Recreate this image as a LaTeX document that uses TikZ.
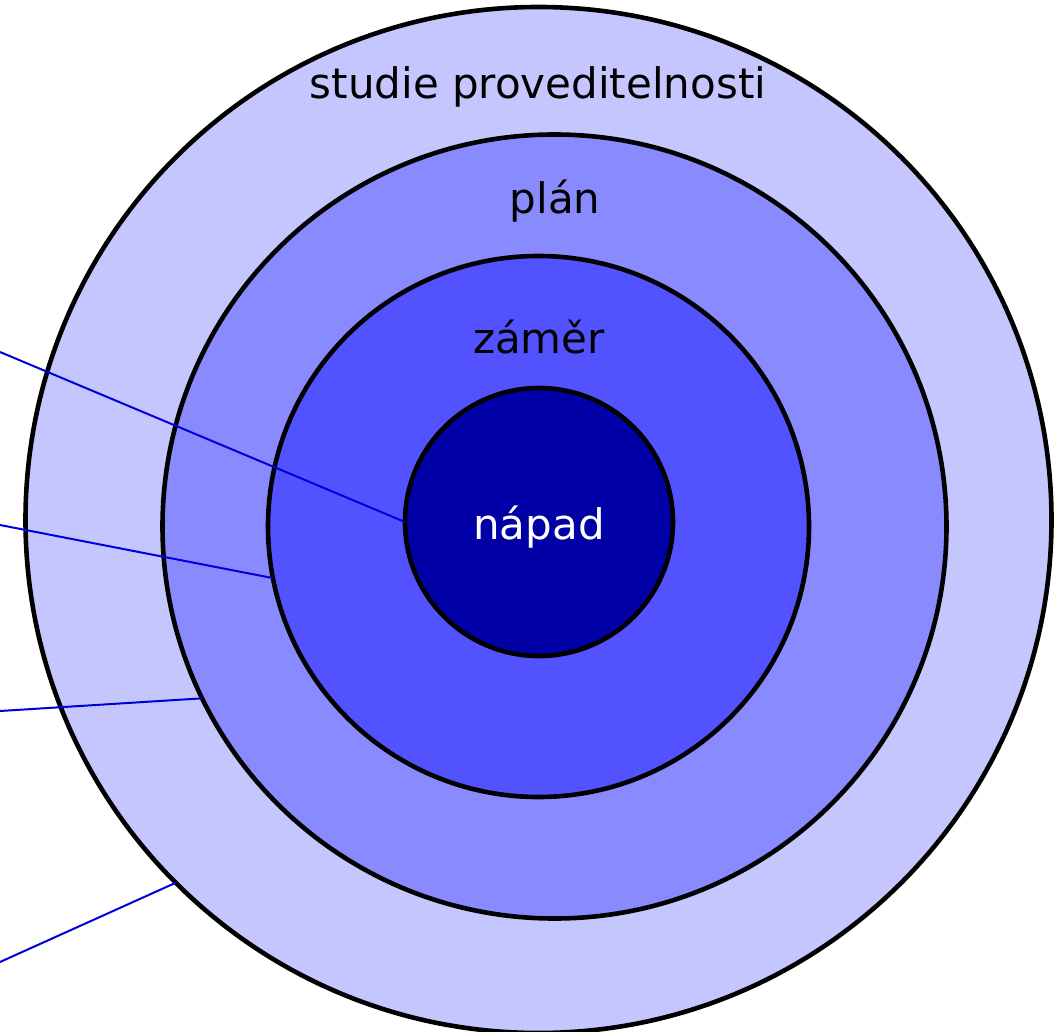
\documentclass[tikz,border=0pt]{standalone}
\usepackage{fontspec}
\setmainfont{DejaVu Sans}
\usetikzlibrary{positioning}
\definecolor{ringout}{RGB}{198,198,255}
\definecolor{ringplan}{RGB}{138,138,255}
\definecolor{ringzamer}{RGB}{82,82,255}
\definecolor{ringcore}{RGB}{0,0,166}
\definecolor{pointblue}{RGB}{0,0,220}

\begin{document}
\begin{tikzpicture}[x=0.5pt, y=-0.5pt,
    ring/.style={circle, draw=black, line width=2.3pt, inner sep=0pt, outer sep=0pt},
    ringlabel/.style={anchor=base, font=\fontsize{21}{25}\selectfont},
    pointer/.style={draw=pointblue, line width=1pt}]
    \useasboundingbox (0,0) rectangle (1054,1032);
    % --- Rings (outermost first) ---
    \node[ring, fill=ringout, minimum size=513pt] (studie) at (538.5,520) {};
    \node[ring, fill=ringplan, minimum size=392pt] (plan) at (554.5,526.5) {};
    \node[ring, fill=ringzamer, minimum size=270.5pt] (zamer) at (538.5,526.5) {};
    \node[ring, fill=ringcore, minimum size=134pt] (napad) at (539,522) {};
    % --- Labels ---
    \node[ringlabel] (lstudie) at (538,99) {studie proveditelnosti};
    \node[ringlabel] (lplan) at (555,214) {plán};
    \node[ringlabel] (lzamer) at (539,353) {záměr};
    \node[ringlabel, text=white] (lnapad) at (539,539) {nápad};
    % --- Pointers from the left edge ---
    \coordinate (p1) at (0,352);
    \coordinate (p2) at (0,525);
    \coordinate (p3) at (0,711);
    \coordinate (p4) at (0,962);
    \draw[pointer] (p1) -- (napad.west);
    \draw[pointer] (p2) -- (zamer.191);
    \draw[pointer] (p3) -- (plan.206);
    \draw[pointer] (p4) -- (studie.225);
\end{tikzpicture}
\end{document}
